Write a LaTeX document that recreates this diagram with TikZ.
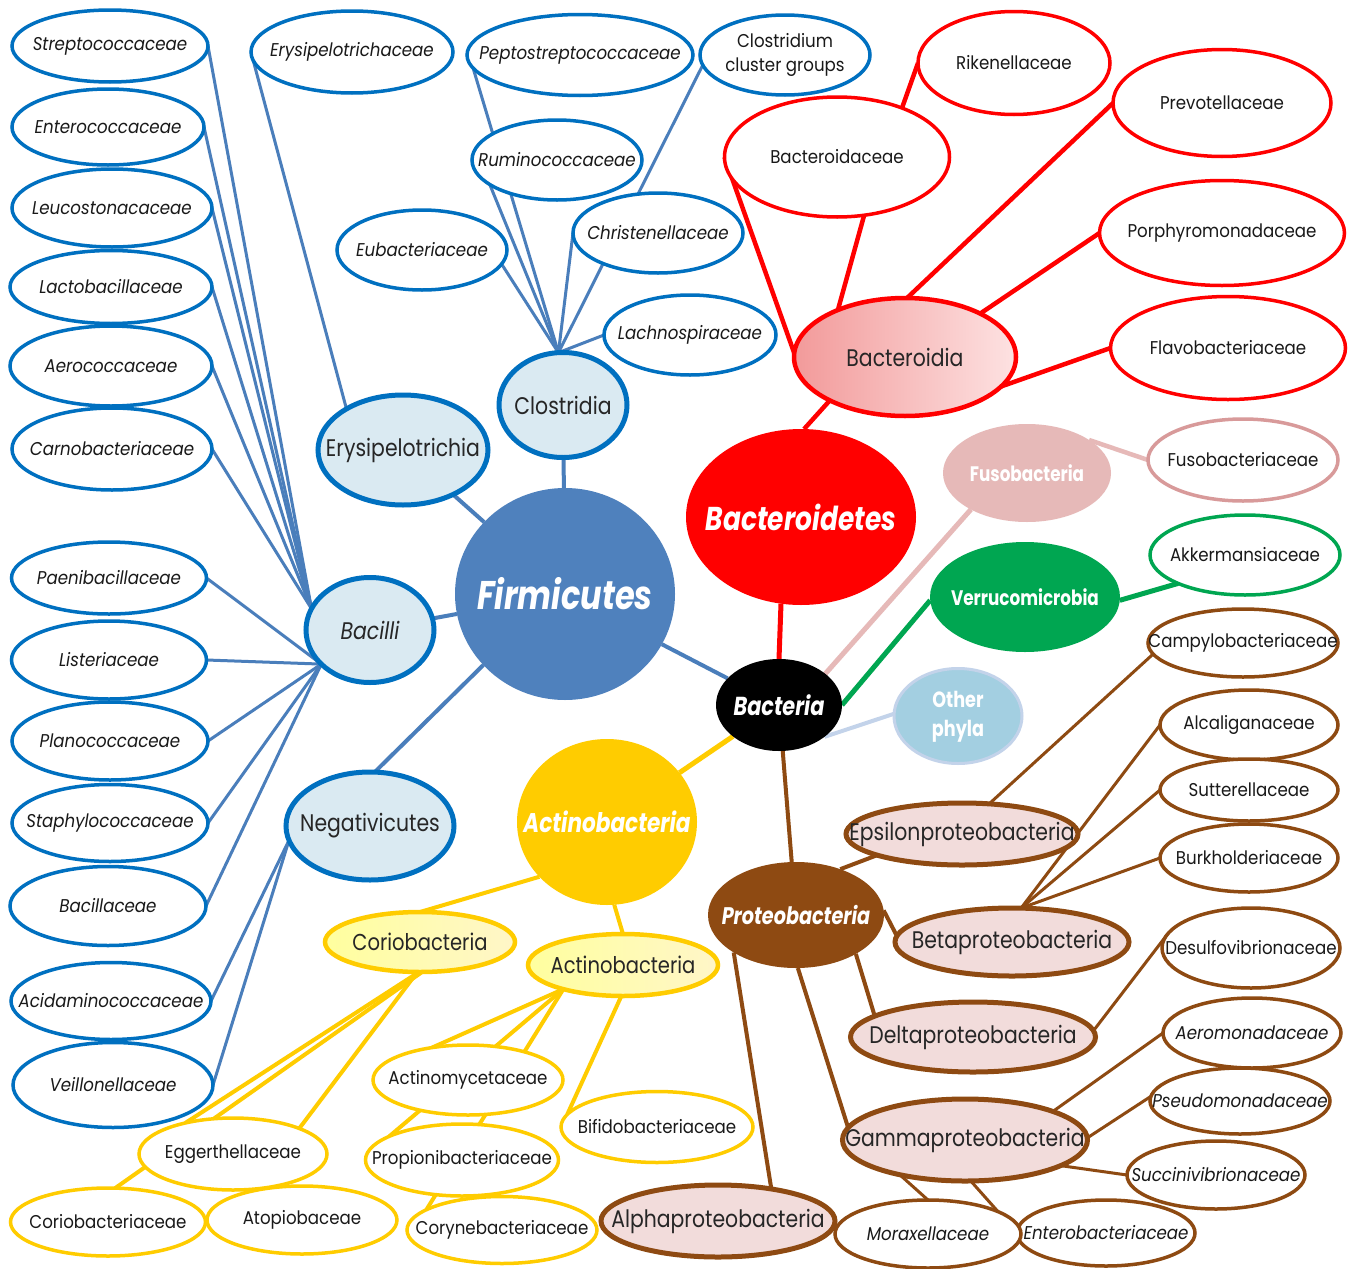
\documentclass[tikz,border=0pt]{standalone}
\usepackage{fontspec}
\setmainfont{Poppins}
\newfontfamily\famf[FakeStretch=0.9]{Poppins}
\newfontfamily\clsf[FakeStretch=0.85]{Poppins}
\newfontfamily\phyf[FakeStretch=0.8]{Poppins}
\usetikzlibrary{shapes.geometric,backgrounds}
\definecolor{fblue}{HTML}{0070C0}
\definecolor{lblue}{HTML}{4A7EBB}
\definecolor{cfill}{HTML}{DAEAF2}
\definecolor{firmc}{HTML}{4F81BD}
\definecolor{bred}{HTML}{FF0000}
\definecolor{fusoc}{HTML}{E6B9B8}
\definecolor{fusob}{HTML}{D89A9A}
\definecolor{verrc}{HTML}{00A651}
\definecolor{othc}{HTML}{A3CFE1}
\definecolor{othb}{HTML}{C3D3EA}
\definecolor{ayel}{HTML}{FFCC00}
\definecolor{lyel}{HTML}{FFFF9E}
\definecolor{lyel2}{HTML}{FFF6C8}
\definecolor{brn}{HTML}{8E4A12}
\definecolor{pfill}{HTML}{F2DCDB}
\definecolor{pink1}{HTML}{F29A9A}
\definecolor{pink2}{HTML}{FDE2E2}
\newcommand\mylab[1]{\makebox[0pt][c]{#1}}
\newcommand\twolines[2]{\makebox[0pt][c]{\begin{tabular}{@{}c@{}}#1\\#2\end{tabular}}}
\tikzset{
  every node/.style={ellipse, inner sep=0pt, outer sep=0pt},
  fam/.style={draw, fill=white, line width=3.5pt, font=\famf\fontsize{18.5}{21}\selectfont, text=black!90},
  bfam/.style={fam, draw=fblue, font=\famf\fontsize{18.5}{21}\selectfont\itshape},
  rfam/.style={fam, draw=bred},
  pfam/.style={fam, draw=brn},
  pifam/.style={pfam, font=\famf\fontsize{18.5}{21}\selectfont\itshape},
  yfam/.style={fam, draw=ayel},
  cls/.style={draw, line width=5pt, font=\clsf\fontsize{24}{28}\selectfont, text=black!85},
  bcls/.style={cls, draw=fblue, fill=cfill},
  pcls/.style={cls, draw=brn, fill=pfill},
  ycls/.style={cls, draw=ayel, left color=lyel, right color=lyel2, line width=4.5pt, font=\clsf\fontsize{23}{26}\selectfont},
  phy/.style={text=white},
  lb/.style={draw=lblue, line width=3pt},
  lbt/.style={draw=lblue, line width=4pt},
  lr/.style={draw=bred, line width=4.5pt},
  lp/.style={draw=brn, line width=4pt},
  lpf/.style={draw=brn, line width=3pt},
  ly/.style={draw=ayel, line width=4pt},
}
\begin{document}
\begin{tikzpicture}[x=1pt,y=-1pt]
\useasboundingbox (0,0) rectangle (1358,1269);
% ---------- Firmicutes families ----------
\node[bfam, minimum width=196pt, minimum height=72pt] (strep) at (110,46) {\mylab{Streptococcaceae}};
\node[bfam, minimum width=192pt, minimum height=76pt] (entero) at (108,127) {\mylab{Enterococcaceae}};
\node[bfam, minimum width=200pt, minimum height=78pt] (leuco) at (112,208) {\mylab{Leucostonacaceae}};
\node[bfam, minimum width=202pt, minimum height=73pt] (lacto) at (111,287) {\mylab{Lactobacillaceae}};
\node[bfam, minimum width=202pt, minimum height=80pt] (aero) at (111,366) {\mylab{Aerococcaceae}};
\node[bfam, minimum width=200pt, minimum height=82pt] (carno) at (112,449) {\mylab{Carnobacteriaceae}};
\node[bfam, minimum width=195pt, minimum height=72pt] (paeni) at (109,578) {\mylab{Paenibacillaceae}};
\node[bfam, minimum width=195pt, minimum height=78pt] (lister) at (109,660) {\mylab{Listeriaceae}};
\node[bfam, minimum width=196pt, minimum height=78pt] (plano) at (110,741) {\mylab{Planococcaceae}};
\node[bfam, minimum width=196pt, minimum height=77pt] (staph) at (110,823) {\mylab{Staphylococcaceae}};
\node[bfam, minimum width=196pt, minimum height=79pt] (bacil) at (108,906) {\mylab{Bacillaceae}};
\node[bfam, minimum width=200pt, minimum height=77pt] (acida) at (111,1001) {\mylab{Acidaminococcaceae}};
\node[bfam, minimum width=200pt, minimum height=85pt] (veill) at (113,1085) {\mylab{Veillonellaceae}};
\node[bfam, minimum width=202pt, minimum height=82pt] (erysf) at (352,52) {\mylab{Erysipelotrichaceae}};
\node[bfam, minimum width=226pt, minimum height=81pt] (pepto) at (580,55) {\mylab{Peptostreptococcaceae}};
\node[bfam, minimum width=170pt, minimum height=80pt, font=\famf\fontsize{18.5}{24}\selectfont] (cluster) at (785,55) {\twolines{Clostridium}{cluster groups}};
\node[bfam, minimum width=170pt, minimum height=80pt] (rumino) at (557,160) {\mylab{Ruminococcaceae}};
\node[bfam, minimum width=170pt, minimum height=80pt] (eubac) at (422,250) {\mylab{Eubacteriaceae}};
\node[bfam, minimum width=170pt, minimum height=80pt] (christ) at (658,233) {\mylab{Christenellaceae}};
\node[bfam, minimum width=172pt, minimum height=80pt] (lachno) at (690,335) {\mylab{Lachnospiraceae}};
% ---------- Firmicutes classes ----------
\node[bcls, minimum width=128pt, minimum height=105pt] (clost) at (563,405) {\mylab{Clostridia}};
\node[bcls, minimum width=170pt, minimum height=110pt] (erysi) at (403,450) {\mylab{Erysipelotrichia}};
\node[bcls, minimum width=128pt, minimum height=105pt, font=\clsf\fontsize{24}{28}\selectfont\itshape] (bacilli) at (370,630) {\mylab{Bacilli}};
\node[bcls, minimum width=168pt, minimum height=108pt] (negat) at (370,826) {\mylab{Negativicutes}};
% ---------- Phyla ----------
\node[phy, fill=firmc, minimum width=220pt, minimum height=212pt, font=\phyf\fontsize{40}{44}\selectfont\bfseries\itshape] (firm) at (565,594) {\mylab{Firmicutes}};
\node[phy, fill=bred, minimum width=230pt, minimum height=176pt, font=\phyf\fontsize{33}{36}\selectfont\bfseries\itshape] (bdetes) at (801,517) {\mylab{Bacteroidetes}};
\node[phy, fill=black, minimum width=126pt, minimum height=92pt, font=\phyf\fontsize{26}{28}\selectfont\bfseries\itshape] (bact) at (779,705) {\mylab{Bacteria}};
\node[phy, fill=ayel, minimum width=180pt, minimum height=166pt, font=\phyf\fontsize{27}{30}\selectfont\bfseries\itshape] (actino) at (607,822) {\mylab{Actinobacteria}};
\node[phy, fill=brn, minimum width=176pt, minimum height=106pt, font=\phyf\fontsize{24}{27}\selectfont\bfseries\itshape] (proteo) at (796,915) {\mylab{Proteobacteria}};
\node[phy, fill=fusoc, minimum width=168pt, minimum height=98pt, font=\phyf\fontsize{21}{24}\selectfont\bfseries] (fuso) at (1027,473) {\mylab{Fusobacteria}};
\node[phy, fill=verrc, minimum width=190pt, minimum height=110pt, font=\phyf\fontsize{21}{24}\selectfont\bfseries] (verr) at (1025,597) {\mylab{Verrucomicrobia}};
\node[phy, fill=othc, draw=othb, line width=3pt, minimum width=128pt, minimum height=95pt, font=\phyf\fontsize{22}{29}\selectfont\bfseries] (other) at (958,716) {\twolines{Other}{phyla}};
% ---------- Bacteroidetes ----------
\node[cls, draw=bred, line width=4.5pt, left color=pink1, right color=pink2, minimum width=222pt, minimum height=118pt] (bdia) at (905,357) {\mylab{Bacteroidia}};
\node[rfam, minimum width=225pt, minimum height=120pt] (bdac) at (837,157) {\mylab{Bacteroidaceae}};
\node[rfam, minimum width=192pt, minimum height=103pt] (riken) at (1014,63) {\mylab{Rikenellaceae}};
\node[rfam, minimum width=218pt, minimum height=107pt] (prevo) at (1222,103) {\mylab{Prevotellaceae}};
\node[rfam, minimum width=245pt, minimum height=105pt] (porph) at (1222,233) {\mylab{Porphyromonadaceae}};
\node[rfam, minimum width=235pt, minimum height=103pt] (flavo) at (1228,348) {\mylab{Flavobacteriaceae}};
\node[fam, draw=fusob, minimum width=190pt, minimum height=82pt] (fusof) at (1243,460) {\mylab{Fusobacteriaceae}};
\node[fam, draw=verrc, minimum width=190pt, minimum height=80pt] (akk) at (1245,555) {\mylab{Akkermansiaceae}};
% ---------- Proteobacteria ----------
\node[pcls, minimum width=232pt, minimum height=62pt] (eps) at (962,834) {\mylab{Epsilonproteobacteria}};
\node[pcls, minimum width=234pt, minimum height=68pt] (beta) at (1012,942) {\mylab{Betaproteobacteria}};
\node[pcls, minimum width=245pt, minimum height=70pt] (delta) at (973,1037) {\mylab{Deltaproteobacteria}};
\node[pcls, minimum width=245pt, minimum height=82pt] (gamma) at (965,1140) {\mylab{Gammaproteobacteria}};
\node[pcls, minimum width=234pt, minimum height=72pt] (alpha) at (718,1221) {\mylab{Alphaproteobacteria}};
\node[pfam, minimum width=190pt, minimum height=68pt] (campy) at (1243,643) {\mylab{Campylobacteriaceae}};
\node[pfam, minimum width=178pt, minimum height=70pt] (alcal) at (1249,725) {\mylab{Alcaliganaceae}};
\node[pfam, minimum width=178pt, minimum height=62pt] (sutter) at (1249,790) {\mylab{Sutterellaceae}};
\node[pfam, minimum width=178pt, minimum height=68pt] (burk) at (1249,858) {\mylab{Burkholderiaceae}};
\node[pfam, minimum width=178pt, minimum height=80pt] (desulf) at (1251,948) {\mylab{Desulfovibrionaceae}};
\node[pifam, minimum width=178pt, minimum height=70pt] (aerom) at (1252,1033) {\mylab{Aeromonadaceae}};
\node[pifam, minimum width=180pt, minimum height=66pt] (pseudo) at (1240,1101) {\mylab{Pseudomonadaceae}};
\node[pifam, minimum width=178pt, minimum height=68pt] (succ) at (1216,1175) {\mylab{Succinivibrionaceae}};
\node[pifam, minimum width=178pt, minimum height=66pt] (enterob) at (1106,1233) {\mylab{Enterobacteriaceae}};
\node[pifam, minimum width=186pt, minimum height=68pt] (morax) at (928,1234) {\mylab{Moraxellaceae}};
% ---------- Actinobacteria ----------
\node[ycls, minimum width=190pt, minimum height=60pt] (corio) at (420,942) {\mylab{Coriobacteria}};
\node[ycls, minimum width=190pt, minimum height=62pt] (actcl) at (623,965) {\mylab{Actinobacteria}};
\node[yfam, minimum width=188pt, minimum height=72pt] (egg) at (233,1154) {\mylab{Eggerthellaceae}};
\node[yfam, minimum width=195pt, minimum height=68pt] (coriof) at (108,1222) {\mylab{Coriobacteriaceae}};
\node[yfam, minimum width=190pt, minimum height=68pt] (atop) at (302,1220) {\mylab{Atopiobaceae}};
\node[yfam, minimum width=190pt, minimum height=70pt] (actmy) at (468,1080) {\mylab{Actinomycetaceae}};
\node[yfam, minimum width=193pt, minimum height=72pt] (propi) at (462,1160) {\mylab{Propionibacteriaceae}};
\node[yfam, minimum width=190pt, minimum height=67pt] (coryn) at (502,1230) {\mylab{Corynebacteriaceae}};
\node[yfam, minimum width=192pt, minimum height=71pt] (bifid) at (657,1127) {\mylab{Bifidobacteriaceae}};
% ---------- connectors ----------
\begin{pgfonlayer}{background}
\fill[white] (0,0) rectangle (1358,1269);
\foreach \n in {strep,entero,leuco,lacto,aero,carno} \draw[lb] (\n.east) -- (bacilli.160);
\foreach \n in {paeni,lister,plano,staph,bacil} \draw[lb] (\n.east) -- (bacilli.215);
\foreach \n in {acida,veill} \draw[lb] (\n.east) -- (negat.190);
\draw[lb] (erysf.185) -- (erysi.144);
\draw[lb] (pepto.187) -- (clost.95);
\draw[lb] (cluster.187) -- (clost.95);
\draw[lb] (rumino.200) -- (clost.95);
\draw[lb] (christ.west) -- (clost.95);
\draw[lb] (eubac.-10) -- (clost.95);
\draw[lb] (lachno.west) -- (clost.95);
\draw[lbt] (clost) -- (firm);
\draw[lbt] (erysi) -- (firm);
\draw[lbt] (bacilli) -- (firm);
\draw[lbt] (negat.85) -- (firm.221);
\draw[lbt] (firm) -- (bact);
\draw[lr, line width=5pt] (bdetes.257) -- (bact.90);
\draw[draw=fusoc, line width=5pt] (fuso.213) -- (bact.34);
\draw[draw=verrc, line width=5pt] (verr.182) -- (bact.0);
\draw[draw=othb, line width=4pt] (other.178) -- (bact.-35);
\draw[draw=ayel, line width=5pt] (actino) -- (bact);
\draw[lp] (bact) -- (proteo);
\draw[lr] (bdetes.88) -- (bdia.210);
\draw[lr] (bdac.295) -- (bdia.145);
\draw[lr] (bdac.west) -- (bdia.178);
\draw[lr] (bdac.37) -- (riken.west);
\draw[lr] (prevo.west) -- (bdia.88);
\draw[lr] (porph.west) -- (bdia.30);
\draw[lr] (flavo.west) -- (bdia.-17);
\draw[draw=fusoc, line width=4.5pt] (fuso.28) -- (fusof.west);
\draw[draw=verrc, line width=5pt] (verr.-2) -- (akk.203);
\draw[lp] (proteo.46) -- (eps.194);
\draw[lp] (proteo.3) -- (beta.177);
\draw[lp] (proteo.-33) -- (delta.168);
\draw[lp] (proteo.-88) -- (gamma.174);
\draw[lp] (proteo.211) -- (alpha.31);
\draw[lpf] (eps.48) -- (campy.187);
\foreach \n in {alcal,sutter,burk} \draw[lpf] (beta.75) -- (\n.west);
\draw[lpf] (delta.3) -- (desulf.171);
\draw[lpf] (gamma.18) -- (aerom.west);
\draw[lpf] (gamma.1) -- (pseudo.177);
\draw[lpf] (gamma.-15) -- (succ.west);
\draw[lpf] (gamma.208) -- (morax.north);
\draw[lpf] (gamma.-82) -- (enterob.west);
\draw[ly] (actino.219) -- (corio.north);
\draw[ly] (actino.-85) -- (actcl.north);
\draw[ly] (corio.-86) -- (coriof.78);
\draw[ly] (corio.-92) -- (egg.147);
\draw[ly] (corio.-95) -- (atop.150);
\foreach \n/\a in {actmy/138,propi/162,coryn/165} \draw[ly] (actcl.202) -- (\n.\a);
\draw[ly] (actcl.-93) -- (bifid.172);
\end{pgfonlayer}
\end{tikzpicture}
\end{document}
